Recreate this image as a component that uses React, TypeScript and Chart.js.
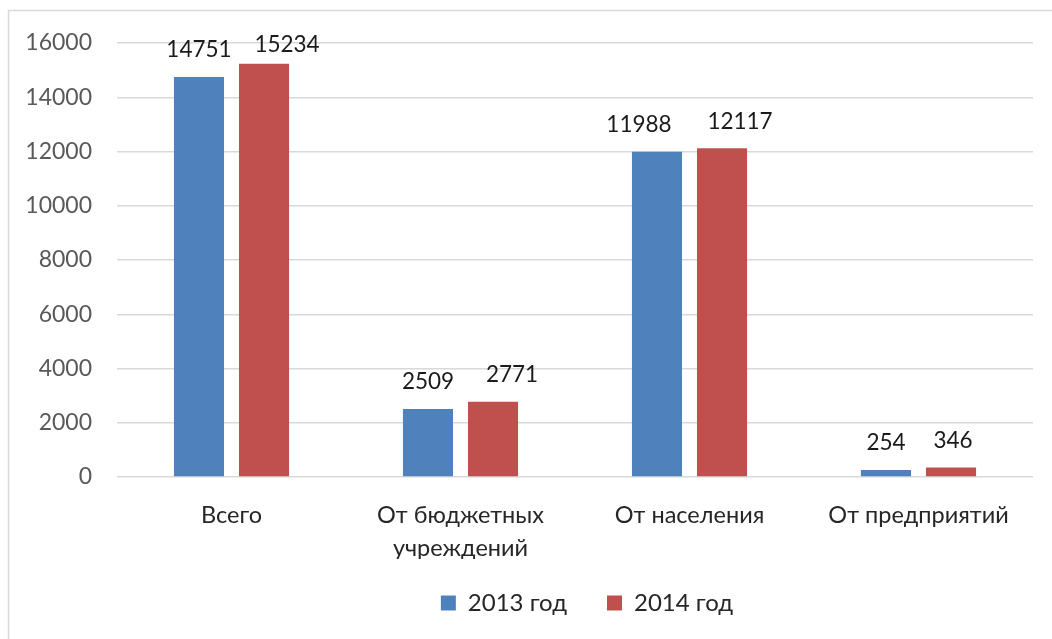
import React, { useEffect, useRef } from "react";
import { Chart, registerables } from "chart.js";

Chart.register(...registerables);

const categories: (string | string[])[] = [
  "Всего",
  ["От бюджетных", "учреждений"],
  "От населения",
  "От предприятий",
];
const series2013 = [14751, 2509, 11988, 254];
const series2014 = [15234, 2771, 12117, 346];
const seriesNames = ["2013 год", "2014 год"];
const yTicks = [0, 2000, 4000, 6000, 8000, 10000, 12000, 14000, 16000];

// label nudges (style only, in px) as placed in the original
const labelNudgeX = [
  [0, 0, -18, 0],
  [23, 19, 18, 2],
];
const labelNudgeY = [
  [0, 0, 0, 0],
  [8, 0, 0, 0],
];

const FONT = "Lato, 'Open Sans', sans-serif";

const frame = {
  id: "frame",
  beforeDraw(chart: any) {
    const ctx = chart.ctx;
    ctx.save();
    ctx.strokeStyle = "#d9d9d9";
    ctx.lineWidth = 1.5;
    ctx.beginPath();
    ctx.moveTo(8.5, chart.height);
    ctx.lineTo(8.5, 10.5);
    ctx.lineTo(chart.width, 10.5);
    ctx.stroke();
    ctx.restore();
  },
};

const valueLabels = {
  id: "valueLabels",
  afterDatasetsDraw(chart: any) {
    const ctx = chart.ctx;
    ctx.save();
    ctx.font = `22.5px ${FONT}`;
    ctx.fillStyle = "#1a1a1a";
    ctx.textAlign = "center";
    ctx.textBaseline = "middle";
    chart.data.datasets.forEach((ds: any, di: number) => {
      const meta = chart.getDatasetMeta(di);
      meta.data.forEach((bar: any, i: number) => {
        ctx.fillText(
          String(ds.data[i]),
          bar.x + labelNudgeX[di][i],
          bar.y - 27 + labelNudgeY[di][i]
        );
      });
    });
    ctx.restore();
  },
};

const legendShift = {
  id: "legendShift",
  afterLayout(chart: any) {
    const lg = chart.legend;
    if (lg) {
      lg.left += 12;
      lg.right += 12;
      lg.top -= 8;
      lg.bottom -= 8;
    }
  },
};

export default function App() {
  const ref = useRef<HTMLCanvasElement>(null);
  useEffect(() => {
    if (!ref.current) return;
    const chart = new Chart(ref.current, {
      type: "bar",
      data: {
        labels: categories,
        datasets: [
          {
            label: seriesNames[0],
            data: series2013,
            backgroundColor: "#4F81BD",
            categoryPercentage: 0.568,
            barPercentage: 0.77,
          },
          {
            label: seriesNames[1],
            data: series2014,
            backgroundColor: "#C0504D",
            categoryPercentage: 0.568,
            barPercentage: 0.77,
          },
        ],
      },
      options: {
        responsive: false,
        animation: false,
        layout: { padding: { left: 0, top: 43, right: 19, bottom: 6 } },
        plugins: {
          legend: {
            position: "bottom",
            fullSize: false,
            labels: {
              boxWidth: 15,
              boxHeight: 15,
              padding: 40,
              color: "#262626",
              font: { family: FONT, size: 24 },
            },
          },
          tooltip: { enabled: false },
        },
        scales: {
          x: {
            grid: { display: false },
            border: { display: false },
            ticks: {
              color: "#262626",
              padding: 14,
              font: { family: FONT, size: 23.5, lineHeight: 1.4 },
              maxRotation: 0,
              autoSkip: false,
            },
            afterFit(scale: any) {
              scale.height = 82;
            },
          },
          y: {
            min: 0,
            max: 16000,
            afterBuildTicks(scale: any) {
              scale.ticks = yTicks.map((v) => ({ value: v }));
            },
            grid: { color: "#d9d9d9", lineWidth: 1.5, drawTicks: false },
            border: { display: false },
            ticks: {
              color: "#595959",
              padding: 25,
              font: { family: FONT, size: 23 },
              callback: (v: any) => String(v),
            },
            afterFit(scale: any) {
              scale.width = 117;
            },
          },
        },
      },
      plugins: [frame, valueLabels, legendShift],
    });
    return () => chart.destroy();
  }, []);
  return (
    <div style={{ position: "fixed", left: 0, top: 0, width: 1052, height: 639, background: "#fff" }}>
      <canvas ref={ref} width={1052} height={639} style={{ display: "block" }} />
    </div>
  );
}
